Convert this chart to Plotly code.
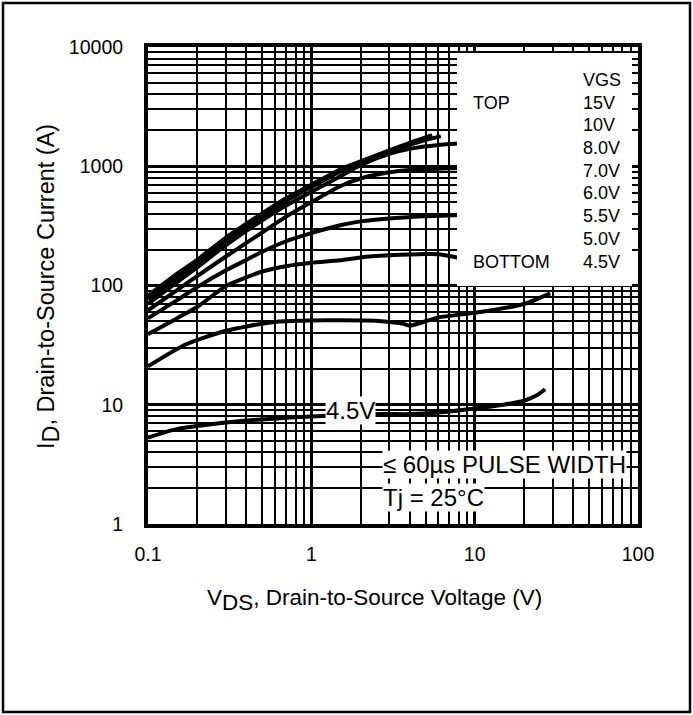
import plotly.graph_objects as go

# Output characteristics: drain current vs drain-to-source voltage, one curve per VGS
vgs_labels = ["15V", "10V", "8.0V", "7.0V", "6.0V", "5.5V", "5.0V", "4.5V"]

vds_15v = [0.1, 0.15, 0.2, 0.3, 0.5, 0.7, 1.0, 1.5, 2.0, 3.0, 4.0, 5.5]
id_15v = [82, 125, 164, 252, 402, 538, 700, 940, 1100, 1360, 1570, 1820]

vds_10v = [0.1, 0.15, 0.2, 0.3, 0.5, 0.7, 1.0, 1.5, 2.0, 3.0, 4.0, 5.0, 6.2]
id_10v = [76, 116, 155, 238, 382, 512, 670, 900, 1065, 1320, 1520, 1660, 1790]

vds_8v = [0.1, 0.15, 0.2, 0.3, 0.5, 0.7, 1.0, 1.5, 2.0, 3.0, 4.0, 6.0, 8.0, 10.0]
id_8v = [70, 106, 142, 218, 352, 468, 610, 820, 1020, 1270, 1400, 1510, 1550, 1580]

vds_7v = [0.1, 0.15, 0.2, 0.3, 0.4, 0.5, 0.7, 1.0, 1.5, 2.0, 3.0, 4.0, 6.0, 10.0]
id_7v = [62, 91, 120, 175, 228, 278, 378, 500, 680, 790, 890, 930, 955, 970]

vds_6v = [0.1, 0.15, 0.2, 0.3, 0.4, 0.5, 0.7, 1.0, 1.5, 2.0, 3.0, 5.0, 8.0, 10.0]
id_6v = [53, 75, 97, 134, 164, 192, 235, 275, 320, 345, 365, 380, 390, 392]

vds_55v = [0.1, 0.15, 0.2, 0.3, 0.4, 0.5, 0.7, 1.0, 1.5, 2.0, 3.0, 5.0, 6.0, 7.8, 9.0]
id_55v = [39, 53, 66, 99, 117, 131, 145, 155, 163, 172, 179, 184, 183, 172, 166]

vds_5v = [0.1, 0.17, 0.3, 0.56, 1.26, 2.8, 3.6, 4.0, 6.0, 10.0, 20.0, 29.0]
id_5v = [21, 32, 41.7, 49, 51, 50, 48, 46, 54, 59, 70, 86]

vds_45v = [0.1, 0.15, 0.37, 1.26, 2.8, 4.0, 6.0, 10.0, 15.0, 20.0, 24.0, 27.0]
id_45v = [5.3, 6.25, 7.3, 8.1, 8.35, 8.35, 8.6, 9.3, 10.0, 10.8, 12.0, 13.5]

curves_v = [vds_15v, vds_10v, vds_8v, vds_7v, vds_6v, vds_55v, vds_5v, vds_45v]
curves_i = [id_15v, id_10v, id_8v, id_7v, id_6v, id_55v, id_5v, id_45v]

x_tickvals = [0.1, 1, 10, 100]
x_ticktext = ["0.1", "1", "10", "100"]
y_tickvals = [1, 10, 100, 1000, 10000]
y_ticktext = ["1", "10", "100", "1000", "10000"]

FONT = "Liberation Sans, Arial, Helvetica, sans-serif"

fig = go.Figure()
for name, v, i in zip(vgs_labels, curves_v, curves_i):
    fig.add_trace(go.Scatter(
        x=v, y=i, mode="lines", name=name,
        line=dict(color="black", width=4, shape="spline", smoothing=0.6),
        showlegend=False, hoverinfo="skip",
    ))

W, H = 693, 715
L, R, T, B = 148, 55, 47, 191
pw, ph = W - L - R, H - T - B


def px(xp):
    return (xp - L) / pw


def py(yp):
    return (H - B - yp) / ph


axis_common = dict(
    type="log",
    showline=True, linewidth=4, linecolor="black", mirror=True,
    showgrid=True, gridcolor="black", gridwidth=3,
    ticks="", zeroline=False,
    tickfont=dict(family=FONT, size=19.5, color="black"),
    minor=dict(dtick="D1", showgrid=True, gridcolor="black", gridwidth=1.5, ticks=""),
)

fig.update_xaxes(range=[-1, 2], tickvals=x_tickvals, ticktext=x_ticktext,
                 ticklabelstandoff=10, **axis_common)
fig.update_yaxes(range=[0, 4], tickvals=y_tickvals, ticktext=y_ticktext,
                 ticklabelstandoff=17, **axis_common)

shapes = [
    # legend panel
    dict(type="rect", xref="paper", yref="paper",
         x0=px(457), x1=px(632), y0=py(286), y1=py(53),
         fillcolor="white", line=dict(width=0), layer="above"),
    # outer frame
    dict(type="rect", xref="paper", yref="paper",
         x0=px(3), x1=px(690), y0=py(712), y1=py(3),
         fillcolor="rgba(0,0,0,0)", line=dict(color="black", width=2.5), layer="above"),
]

ann = []
leg_font = dict(family=FONT, size=18, color="black")
row0, step = 80, 22.7
ann.append(dict(text="VGS", x=px(581), y=py(row0), xref="paper", yref="paper",
                xanchor="left", yanchor="middle", showarrow=False, font=leg_font))
for k, lab in enumerate(vgs_labels):
    ann.append(dict(text=lab, x=px(581), y=py(row0 + step * (k + 1)), xref="paper", yref="paper",
                    xanchor="left", yanchor="middle", showarrow=False, font=leg_font))
ann.append(dict(text="TOP", x=px(471), y=py(row0 + step), xref="paper", yref="paper",
                xanchor="left", yanchor="middle", showarrow=False, font=leg_font))
ann.append(dict(text="BOTTOM", x=px(471), y=py(row0 + step * len(vgs_labels)), xref="paper", yref="paper",
                xanchor="left", yanchor="middle", showarrow=False, font=leg_font))

big_font = dict(family=FONT, size=24, color="black")
ann.append(dict(text="4.5V", x=px(350), y=py(410), xref="paper", yref="paper",
                xanchor="center", yanchor="middle", showarrow=False, font=big_font,
                bgcolor="white", borderpad=0))
ann.append(dict(text="≤ 60µs PULSE WIDTH", x=px(382), y=py(464), xref="paper", yref="paper",
                xanchor="left", yanchor="middle", showarrow=False, font=big_font,
                bgcolor="white", borderpad=0))
ann.append(dict(text="Tj = 25°C", x=px(382), y=py(497), xref="paper", yref="paper",
                xanchor="left", yanchor="middle", showarrow=False, font=big_font,
                bgcolor="white", borderpad=0))

ann.append(dict(text='V<sub><span style="font-size:22.5px">DS</span></sub>, Drain-to-Source Voltage (V)',
                x=px(374), y=py(600), xref="paper", yref="paper",
                xanchor="center", yanchor="middle", showarrow=False,
                font=dict(family=FONT, size=22.5, color="black")))
ann.append(dict(text='I<sub><span style="font-size:23.5px">D</span></sub>, Drain-to-Source Current (A)',
                x=px(48), y=py(287), xref="paper", yref="paper", textangle=-90,
                xanchor="center", yanchor="middle", showarrow=False,
                font=dict(family=FONT, size=23.5, color="black")))

fig.update_layout(
    width=W, height=H,
    margin=dict(l=L, r=R, t=T, b=B),
    paper_bgcolor="white", plot_bgcolor="white",
    shapes=shapes, annotations=ann,
    font=dict(family=FONT, color="black"),
)

fig.write_html("out.html")
